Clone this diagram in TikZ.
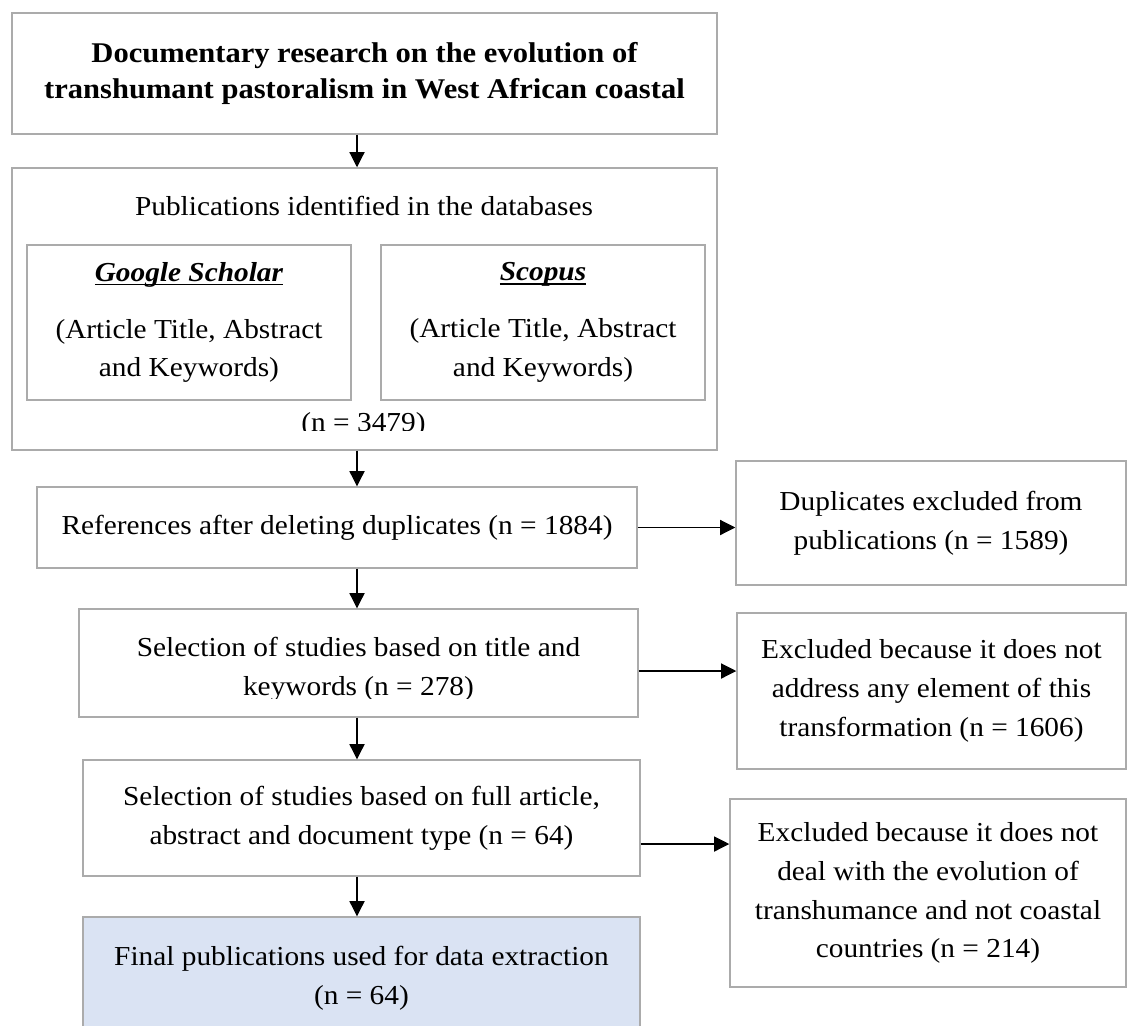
\documentclass[tikz,border=0pt]{standalone}
\usepackage{fontspec}
\setmainfont{Liberation Serif}[FakeStretch=1.07]
\usetikzlibrary{arrows.meta,positioning,calc}
\definecolor{linegray}{HTML}{ABABAB}
\definecolor{blueLight}{HTML}{DAE3F3}
\newcommand{\dbname}[1]{\setbox0\hbox{\textbf{\textit{#1}}}\rlap{\rule[-0.1cm]{\wd0}{1.1pt}}\box0}

\begin{document}
\begin{tikzpicture}[
    x=0.025cm, y=-0.025cm,
    box/.style={draw=linegray, line width=1pt, fill=white, inner sep=0pt, align=center, font=\fontsize{19.5}{27.6}\selectfont},
    txt/.style={inner sep=0pt, align=center, font=\fontsize{19.5}{27.6}\selectfont},
    arrow/.style={-{Triangle[length=0.38cm, width=0.38cm]}, line width=0.8pt}
  ]
    \clip (0,0) rectangle (1128,1025);
    \coordinate (spine) at (357,0);

    \node[box, minimum width=17.625cm, minimum height=3.025cm, font=\fontsize{20.3}{25.5}\selectfont\bfseries] (title) at (364.5,73.5) {Documentary research on the evolution of\\transhumant pastoralism in West African coastal};

    % databases
    \node[box, minimum width=17.625cm, minimum height=7.05cm] (db) at (364.5,309) {};
    \node[txt, anchor=base] (dbhead) at (364,215) {Publications identified in the databases};
    \node[box, minimum width=8.1cm, minimum height=3.875cm] (scholar) at (189,322.5) {\dbname{Google Scholar}\\[0.45cm](Article Title, Abstract\\and Keywords)};
    \node[box, minimum width=8.1cm, minimum height=3.875cm] (scopus) at (543,322.5) {\dbname{Scopus}\\[0.45cm](Article Title, Abstract\\and Keywords)};
    \begin{scope}
      \clip (12,168) rectangle (717,430.5);
      \node[txt, anchor=base] (dbcount) at (363.5,431) {(n = 3479)};
    \end{scope}

    \node[box, minimum width=15cm, minimum height=2.025cm] (dedup) at (337,527.5) {References after deleting duplicates (n = 1884)};
    \node[box, minimum width=9.75cm, minimum height=3.1cm] (dup) at (931,523) {Duplicates excluded from\\publications (n = 1589)};

    \node[box, minimum width=13.975cm, minimum height=2.7cm] (screen) at (358.5,663) {};
    \begin{scope}
      \clip (79,609) rectangle (638,698);
      \node[txt] (screen-t) at ([yshift=-0.16cm]screen.center) {Selection of studies based on title and\\keywords (n = 278)};
    \end{scope}
    \node[box, minimum width=9.725cm, minimum height=3.9cm] (excl1) at (931.5,691) {Excluded because it does not\\address any element of this\\transformation (n = 1606)};

    \node[box, minimum width=13.925cm, minimum height=2.9cm] (full) at (361.5,818) {Selection of studies based on full article,\\abstract and document type (n = 64)};
    \node[box, minimum width=9.9cm, minimum height=4.7cm] (excl2) at (928,893) {Excluded because it does not\\deal with the evolution of\\transhumance and not coastal\\countries (n = 214)};

    \node[box, fill=blueLight, minimum width=13.925cm, minimum height=3.075cm] (final) at (361.5,978.5) {Final publications used for data extraction\\(n = 64)};

    \draw[arrow] (title.south -| spine) -- (db.north -| spine);
    \draw[arrow] (db.south -| spine) -- (dedup.north -| spine);
    \draw[arrow] (dedup.east) -- (dedup.east -| dup.west);
    \draw[arrow] (dedup.south -| spine) -- (screen.north -| spine);
    \draw[arrow] ([yshift=-0.2cm]screen.east) -- ([yshift=-0.2cm]screen.east -| excl1.west);
    \draw[arrow] (screen.south -| spine) -- (full.north -| spine);
    \draw[arrow] ([yshift=-0.65cm]full.east) -- ([yshift=-0.65cm]full.east -| excl2.west);
    \draw[arrow] (full.south -| spine) -- (final.north -| spine);
\end{tikzpicture}
\end{document}
